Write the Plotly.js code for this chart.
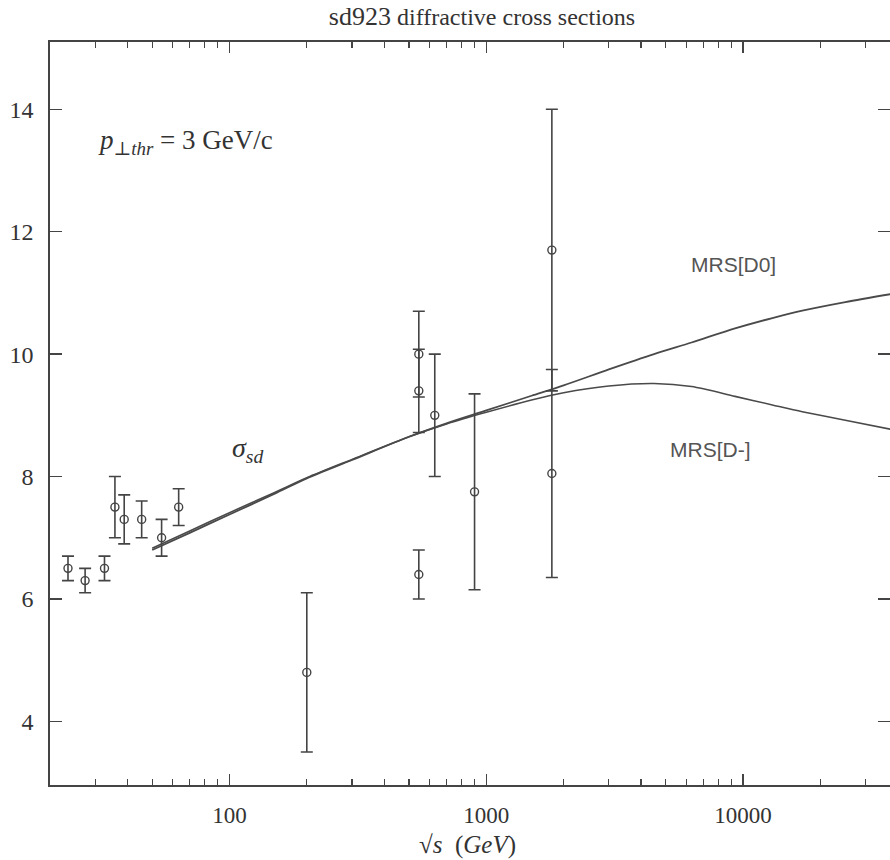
<!DOCTYPE html>
<html>
<head>
<meta charset="utf-8">
<script src="https://cdn.plot.ly/plotly-3.0.1.min.js"></script>
<style>html,body{margin:0;padding:0;background:#fff;}#chart{width:890px;height:860px;}</style>
</head>
<body>
<div id="chart"></div>
<script>
// measured data points (sqrt(s) in GeV, sigma_sd in mb, symmetric error)
const dataEnergy = [23.5, 27.4, 32.6, 35.8, 38.9, 45.5, 54.4, 63.4, 200, 546, 546, 546, 630, 900, 1800, 1800];
const dataSigma  = [6.5, 6.3, 6.5, 7.5, 7.3, 7.3, 7.0, 7.5, 4.8, 6.4, 10.0, 9.4, 9.0, 7.75, 11.7, 8.05];
const dataError  = [0.2, 0.2, 0.2, 0.5, 0.4, 0.3, 0.3, 0.3, 1.3, 0.4, 0.7, 0.68, 1.0, 1.6, 2.3, 1.7];

// model curves
const curveEnergy = [50, 70, 100, 150, 200, 300, 500, 700, 1000, 1500, 2000, 3000, 4500, 6300, 9300, 13000, 17000, 25000, 40000];
const curveD0     = [6.8, 7.08, 7.38, 7.72, 7.97, 8.27, 8.65, 8.87, 9.08, 9.32, 9.49, 9.75, 10.0, 10.19, 10.42, 10.59, 10.71, 10.85, 11.0];
const curveDminus = [6.83, 7.11, 7.41, 7.74, 7.98, 8.28, 8.65, 8.86, 9.05, 9.25, 9.37, 9.48, 9.52, 9.47, 9.31, 9.17, 9.06, 8.92, 8.75];

const xMajorTicks = [100, 1000, 10000];
const xMinorTicks = [30,40,50,60,70,80,90,200,300,400,500,600,700,800,900,2000,3000,4000,5000,6000,7000,8000,9000,20000,30000];
const yTicks = [4, 6, 8, 10, 12, 14];

const ink = '#444';
const serif = 'Liberation Serif, DejaVu Serif, serif';
const L = 50, R = 890, T = 42, B = 785;
const px = (v) => (v - L) / (R - L);
const py = (v) => (B - v) / (B - T);

const traces = [
  {x: curveEnergy, y: curveD0, mode: 'lines', line: {color: '#4a4a4a', width: 1.8, shape: 'spline', smoothing: 0.8}, hoverinfo: 'skip'},
  {x: curveEnergy, y: curveDminus, mode: 'lines', line: {color: '#4a4a4a', width: 1.6, shape: 'spline', smoothing: 0.8}, hoverinfo: 'skip'},
  {x: dataEnergy, y: dataSigma, mode: 'markers',
   marker: {symbol: 'circle-open', size: 8, color: ink, line: {width: 1.4, color: ink}},
   error_y: {type: 'data', array: dataError, visible: true, color: ink, thickness: 1.6, width: 6}}
];

const layout = {
  width: 890, height: 860,
  margin: {l: L, r: 890 - R, t: T, b: 860 - B},
  paper_bgcolor: '#fff', plot_bgcolor: '#fff',
  showlegend: false,
  title: {text: '<span style="font-size:26px">sd923</span> diffractive cross sections', font: {family: serif, size: 24, color: '#333'},
          x: 482 / 890, xanchor: 'center', xref: 'container', y: 1 - 17 / 860, yanchor: 'middle'},
  xaxis: {
    type: 'log', range: [Math.log10(20), 4.572],
    tickmode: 'array', tickvals: xMajorTicks, ticktext: xMajorTicks.map(String),
    ticks: 'inside', ticklen: 11, tickwidth: 1.3, tickcolor: ink,
    minor: {tickmode: 'array', tickvals: xMinorTicks, ticks: 'inside', ticklen: 6, tickwidth: 1.2, tickcolor: ink, showgrid: false},
    showline: true, linecolor: ink, linewidth: 1.6, mirror: 'ticks',
    showgrid: false, zeroline: false,
    tickfont: {family: serif, size: 23, color: '#333'}, ticklabelstandoff: 9
  },
  yaxis: {
    range: [2.96, 15.1],
    tickmode: 'array', tickvals: yTicks, ticktext: yTicks.map(String),
    ticks: 'inside', ticklen: 12, tickwidth: 1.3, tickcolor: ink,
    showline: true, linecolor: ink, linewidth: 1.6, mirror: 'ticks',
    showgrid: false, zeroline: false,
    tickfont: {family: serif, size: 24, color: '#333'}, ticklabelstandoff: 10
  },
  annotations: [
    {xref: 'paper', yref: 'paper', x: px(467), y: py(845), xanchor: 'center', yanchor: 'middle', showarrow: false,
     text: '√<i>s</i>  (<i>GeV</i>)', font: {family: serif, size: 25, color: '#333'}},
    {xref: 'paper', yref: 'paper', x: px(96), y: py(142), xanchor: 'left', yanchor: 'middle', showarrow: false,
     text: '<i>p</i><sub>⊥<i>thr</i></sub> = 3 GeV/c', font: {family: serif, size: 27, color: '#333'}},
    {xref: 'paper', yref: 'paper', x: px(230), y: py(449), xanchor: 'left', yanchor: 'middle', showarrow: false,
     text: '<i>σ</i><sub><i>sd</i></sub>', font: {family: serif, size: 28, color: '#333'}},
    {xref: 'paper', yref: 'paper', x: px(733), y: py(264), xanchor: 'center', yanchor: 'middle', showarrow: false,
     text: 'MRS[D0]', font: {family: 'Liberation Sans, Arial, sans-serif', size: 21, color: '#555'}},
    {xref: 'paper', yref: 'paper', x: px(710), y: py(449), xanchor: 'center', yanchor: 'middle', showarrow: false,
     text: 'MRS[D-]', font: {family: 'Liberation Sans, Arial, sans-serif', size: 21, color: '#555'}}
  ]
};

Plotly.newPlot('chart', traces, layout, {displayModeBar: false, staticPlot: true});
</script>
</body>
</html>
